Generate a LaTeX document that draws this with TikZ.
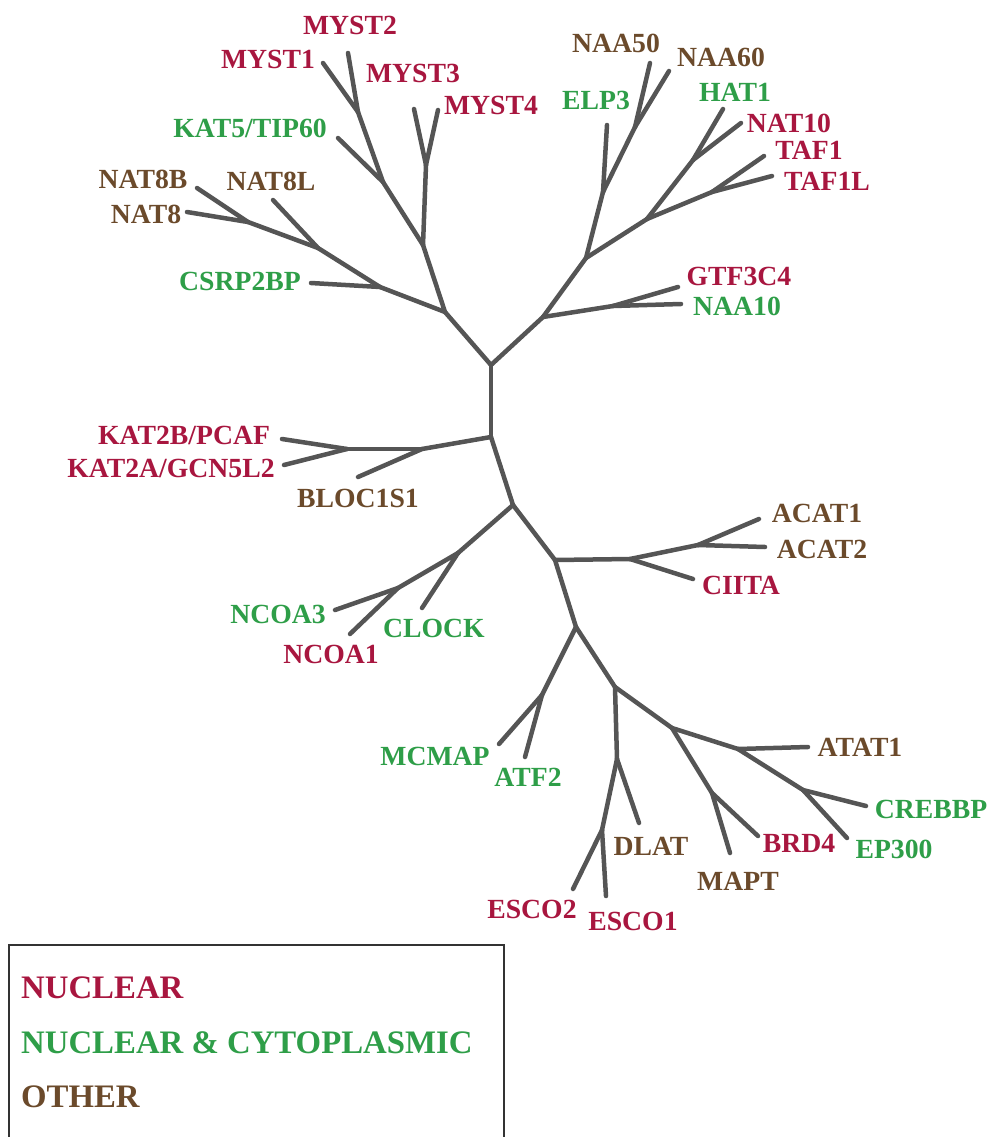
\documentclass[tikz,border=0pt]{standalone}
\usepackage{fontspec}
\setmainfont{Liberation Serif}
\definecolor{nuc}{HTML}{A8163F}
\definecolor{ncy}{HTML}{2E9E48}
\definecolor{oth}{HTML}{6B4A2B}
\definecolor{branch}{HTML}{555555}
\tikzset{
  br/.style={draw=branch, line width=4.5pt, line cap=round, line join=round},
  lab/.style={inner sep=0pt, anchor=base, font=\fontsize{27.7}{30}\selectfont\bfseries},
  nucl/.style={lab, text=nuc},
  ncyt/.style={lab, text=ncy},
  othr/.style={lab, text=oth},
  legt/.style={inner sep=0pt, anchor=base west, font=\fontsize{32.8}{36}\selectfont\bfseries},
}
\begin{document}
\begin{tikzpicture}[x=1pt,y=-1pt]
\useasboundingbox (0,0) rectangle (992,1137);
% internal nodes
\coordinate (r1) at (491,365);
\coordinate (r2) at (491,437);
\coordinate (r3) at (513,505);
\coordinate (tl) at (445,312);
\coordinate (m34base) at (423,245);
\coordinate (k5) at (383,182);
\coordinate (m12) at (358,112);
\coordinate (m34) at (426,165);
\coordinate (csj) at (380,287);
\coordinate (n8lj) at (318,248);
\coordinate (n8j) at (248,222);
\coordinate (tr) at (543,317);
\coordinate (gnj) at (613,306);
\coordinate (ej) at (586,258);
\coordinate (elp) at (603,192);
\coordinate (n56) at (635,127);
\coordinate (htj) at (647,219);
\coordinate (hn) at (693,160);
\coordinate (tafj) at (712,192);
\coordinate (kbj) at (422,449);
\coordinate (k2j) at (347,449);
\coordinate (ncj1) at (458,553);
\coordinate (ncj2) at (398,588);
\coordinate (ac0) at (555,560);
\coordinate (ciij) at (630,559);
\coordinate (acj) at (698,545);
\coordinate (A) at (576,627);
\coordinate (mcj) at (542,695);
\coordinate (B) at (615,687);
\coordinate (C) at (617,759);
\coordinate (esj) at (602,830);
\coordinate (D) at (672,728);
\coordinate (E) at (738,749);
\coordinate (F) at (803,790);
\coordinate (mbj) at (712,793);
% tips
\coordinate (tMYST1) at (323,63);
\coordinate (tMYST2) at (348,53);
\coordinate (tKAT5) at (338,138);
\coordinate (tMYST3) at (414,109);
\coordinate (tMYST4) at (438,110);
\coordinate (tNAT8B) at (197,188);
\coordinate (tNAT8) at (187,212);
\coordinate (tNAT8L) at (273,200);
\coordinate (tCSRP) at (311,283);
\coordinate (tNAA50) at (650,63);
\coordinate (tNAA60) at (669,71);
\coordinate (tELP3) at (607,125);
\coordinate (tHAT1) at (723,109);
\coordinate (tNAT10) at (741,123);
\coordinate (tTAF1) at (764,156);
\coordinate (tTAF1L) at (772,176);
\coordinate (tGTF) at (678,287);
\coordinate (tNAA10) at (681,304);
\coordinate (tKAT2B) at (282,439);
\coordinate (tKAT2A) at (284,465);
\coordinate (tBLOC) at (358,477);
\coordinate (tNCOA3) at (335,610);
\coordinate (tNCOA1) at (350,634);
\coordinate (tCLOCK) at (422,608);
\coordinate (tACAT1) at (759,519);
\coordinate (tACAT2) at (765,547);
\coordinate (tCIITA) at (693,579);
\coordinate (tMCMAP) at (499,744);
\coordinate (tATF2) at (525,757);
\coordinate (tDLAT) at (639,823);
\coordinate (tESCO2) at (573,889);
\coordinate (tESCO1) at (606,896);
\coordinate (tMAPT) at (730,853);
\coordinate (tBRD4) at (758,836);
\coordinate (tATAT1) at (808,747);
\coordinate (tCREBBP) at (866,806);
\coordinate (tEP300) at (847,838);
% branches
\draw[br] (r1) -- (r2);
\draw[br] (r2) -- (r3);
\draw[br] (r1) -- (tl);
\draw[br] (r1) -- (tr);
\draw[br] (r2) -- (kbj);
\draw[br] (tl) -- (m34base);
\draw[br] (m34base) -- (k5);
\draw[br] (k5) -- (m12);
\draw[br] (m12) -- (tMYST1);
\draw[br] (m12) -- (tMYST2);
\draw[br] (k5) -- (tKAT5);
\draw[br] (m34base) -- (m34);
\draw[br] (m34) -- (tMYST3);
\draw[br] (m34) -- (tMYST4);
\draw[br] (tl) -- (csj);
\draw[br] (csj) -- (n8lj);
\draw[br] (n8lj) -- (n8j);
\draw[br] (n8j) -- (tNAT8B);
\draw[br] (n8j) -- (tNAT8);
\draw[br] (n8lj) -- (tNAT8L);
\draw[br] (csj) -- (tCSRP);
\draw[br] (tr) -- (ej);
\draw[br] (ej) -- (elp);
\draw[br] (elp) -- (n56);
\draw[br] (n56) -- (tNAA50);
\draw[br] (n56) -- (tNAA60);
\draw[br] (elp) -- (tELP3);
\draw[br] (ej) -- (htj);
\draw[br] (htj) -- (hn);
\draw[br] (hn) -- (tHAT1);
\draw[br] (hn) -- (tNAT10);
\draw[br] (htj) -- (tafj);
\draw[br] (tafj) -- (tTAF1);
\draw[br] (tafj) -- (tTAF1L);
\draw[br] (tr) -- (gnj);
\draw[br] (gnj) -- (tGTF);
\draw[br] (gnj) -- (tNAA10);
\draw[br] (kbj) -- (k2j);
\draw[br] (k2j) -- (tKAT2B);
\draw[br] (k2j) -- (tKAT2A);
\draw[br] (kbj) -- (tBLOC);
\draw[br] (r3) -- (ncj1);
\draw[br] (ncj1) -- (ncj2);
\draw[br] (ncj2) -- (tNCOA3);
\draw[br] (ncj2) -- (tNCOA1);
\draw[br] (ncj1) -- (tCLOCK);
\draw[br] (r3) -- (ac0);
\draw[br] (ac0) -- (ciij);
\draw[br] (ciij) -- (acj);
\draw[br] (acj) -- (tACAT1);
\draw[br] (acj) -- (tACAT2);
\draw[br] (ciij) -- (tCIITA);
\draw[br] (ac0) -- (A);
\draw[br] (A) -- (mcj);
\draw[br] (mcj) -- (tMCMAP);
\draw[br] (mcj) -- (tATF2);
\draw[br] (A) -- (B);
\draw[br] (B) -- (C);
\draw[br] (C) -- (tDLAT);
\draw[br] (C) -- (esj);
\draw[br] (esj) -- (tESCO2);
\draw[br] (esj) -- (tESCO1);
\draw[br] (B) -- (D);
\draw[br] (D) -- (mbj);
\draw[br] (mbj) -- (tMAPT);
\draw[br] (mbj) -- (tBRD4);
\draw[br] (D) -- (E);
\draw[br] (E) -- (tATAT1);
\draw[br] (E) -- (F);
\draw[br] (F) -- (tCREBBP);
\draw[br] (F) -- (tEP300);
% labels
\node[nucl] (lMYST2) at (350,35) {MYST2};
\node[nucl] (lMYST1) at (268,69) {MYST1};
\node[nucl] (lMYST3) at (413,83) {MYST3};
\node[nucl] (lMYST4) at (491,115) {MYST4};
\node[ncyt] (lKAT5) at (250,138) {KAT5/TIP60};
\node[othr] (lNAT8B) at (143,188) {NAT8B};
\node[othr] (lNAT8L) at (271,190) {NAT8L};
\node[othr] (lNAT8) at (146,223) {NAT8};
\node[ncyt] (lCSRP) at (240,290) {CSRP2BP};
\node[othr] (lNAA50) at (616,53) {NAA50};
\node[othr] (lNAA60) at (721,67) {NAA60};
\node[ncyt] (lELP3) at (596,110) {ELP3};
\node[ncyt] (lHAT1) at (735,102) {HAT1};
\node[nucl] (lNAT10) at (789,132) {NAT10};
\node[nucl] (lTAF1) at (809,159) {TAF1};
\node[nucl] (lTAF1L) at (827,190) {TAF1L};
\node[nucl] (lGTF) at (739,285) {GTF3C4};
\node[ncyt] (lNAA10) at (737,315) {NAA10};
\node[nucl] (lKAT2B) at (184,444) {KAT2B/PCAF};
\node[nucl] (lKAT2A) at (171,477) {KAT2A/GCN5L2};
\node[othr] (lBLOC) at (358,507) {BLOC1S1};
\node[ncyt] (lNCOA3) at (278,623) {NCOA3};
\node[nucl] (lNCOA1) at (331,663) {NCOA1};
\node[ncyt] (lCLOCK) at (434,637) {CLOCK};
\node[othr] (lACAT1) at (817,522) {ACAT1};
\node[othr] (lACAT2) at (822,558) {ACAT2};
\node[nucl] (lCIITA) at (741,594) {CIITA};
\node[ncyt] (lMCMAP) at (435,765) {MCMAP};
\node[ncyt] (lATF2) at (528,786) {ATF2};
\node[nucl] (lESCO2) at (532,918) {ESCO2};
\node[nucl] (lESCO1) at (633,930) {ESCO1};
\node[othr] (lDLAT) at (651,855) {DLAT};
\node[othr] (lMAPT) at (738,890) {MAPT};
\node[nucl] (lBRD4) at (799,852) {BRD4};
\node[ncyt] (lEP300) at (894,858) {EP300};
\node[ncyt] (lCREBBP) at (931,818) {CREBBP};
\node[othr] (lATAT1) at (860,756) {ATAT1};
% legend
\draw[draw=black!80, line width=2pt] (9,1137) -- (9,945) -- (504,945) -- (504,1137);
\node[legt, text=nuc] (legN) at (21,998) {NUCLEAR};
\node[legt, text=ncy] (legNC) at (21,1053) {NUCLEAR \& CYTOPLASMIC};
\node[legt, text=oth] (legO) at (21,1107) {OTHER};
\end{tikzpicture}
\end{document}
